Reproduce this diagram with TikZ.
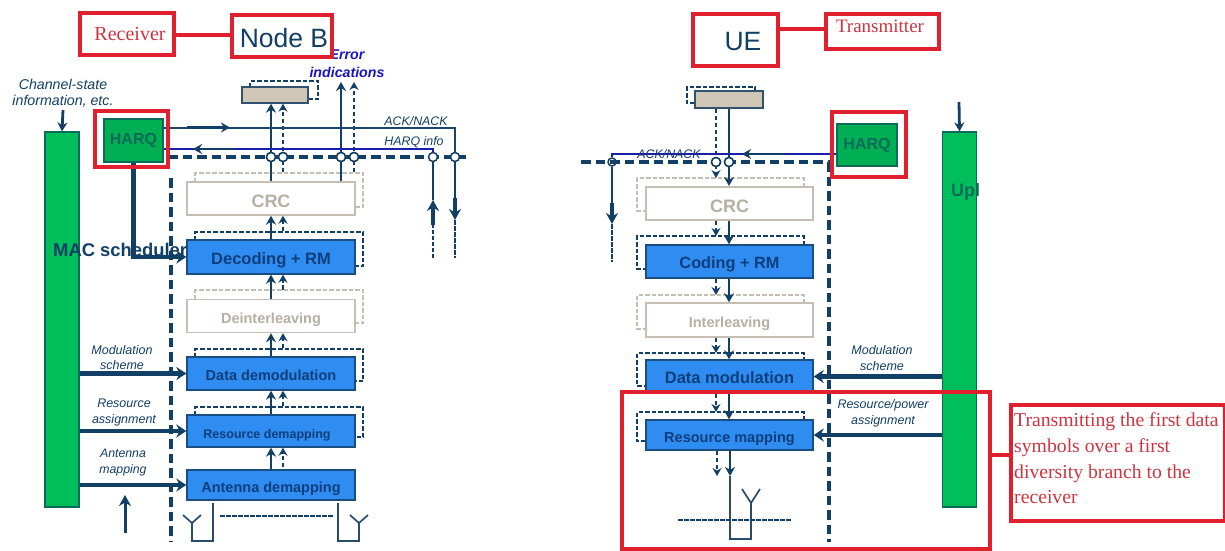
\documentclass[tikz,border=0pt]{standalone}
\usepackage{fontspec}
\setmainfont{Liberation Sans}
\newfontfamily\redserif{Liberation Serif}
\usetikzlibrary{arrows.meta,positioning,calc}
\definecolor{navy}{HTML}{123F66}
\definecolor{barblue}{HTML}{2F8CF0}
\definecolor{barline}{HTML}{1B4E80}
\definecolor{boxtext}{HTML}{0E3F7C}
\definecolor{macgreen}{HTML}{00BE5A}
\definecolor{macline}{HTML}{0C6B58}
\definecolor{tanfill}{HTML}{CFC6B6}
\definecolor{tanline}{HTML}{C6BEB2}
\definecolor{tantext}{HTML}{B7AFA3}
\definecolor{redline}{HTML}{E0202E}
\definecolor{redtext}{HTML}{CC3440}
\definecolor{bluetext}{HTML}{1A14C0}
\tikzset{
  x=1pt,y=-1pt,
  bluebox/.style={draw=barline,line width=1.4pt,fill=barblue,text=boxtext,font=\bfseries\fontsize{15}{15}\selectfont,minimum width=168pt,inner sep=0pt,text height=14pt,text depth=0pt},
  palebox/.style={draw=tanline,line width=1.4pt,fill=white,text=tantext,font=\bfseries\fontsize{15}{15}\selectfont,minimum width=168pt,inner sep=0pt,text height=14pt,text depth=0pt},
  bluesh/.style={draw=navy,line width=2pt,dash pattern=on 4.5pt off 2pt},
  palesh/.style={draw=tanline,line width=2pt,dash pattern=on 4.5pt off 2pt},
  harqbox/.style={draw=macline,line width=1.3pt,fill=macgreen!92!black,text=macline,font=\bfseries\fontsize{16}{16}\selectfont,inner sep=0pt},
  macbar/.style={draw=macline,line width=1.2pt,fill=macgreen,inner sep=0pt,minimum width=34pt,minimum height=375pt},
  redbox/.style={draw=redline,line width=3.4pt,inner sep=0pt},
  redlink/.style={draw=redline,line width=3.4pt},
  redlabel/.style={text=redtext,font=\redserif\fontsize{19}{19}\selectfont,inner sep=0pt},
  biglabel/.style={text=navy,font=\fontsize{26.5}{26.5}\selectfont,inner sep=0pt},
  itlabel/.style={text=navy,font=\itshape\fontsize{14.2}{16}\selectfont,align=center,inner sep=0pt},
  tanbox/.style={draw=navy!70!gray,line width=1.3pt,fill=tanfill,inner sep=0pt},
  junction/.style={circle,draw=navy,line width=1.5pt,fill=white,minimum size=9pt,inner sep=0pt},
  flow/.style={draw=navy,line width=2.8pt,-{Stealth[length=9pt,width=10pt]}},
  dflow/.style={draw=navy,line width=2.8pt,dash pattern=on 4.5pt off 2.5pt,-{Stealth[length=8pt,width=9pt]}},
  ctrl/.style={draw=navy,line width=4.2pt,-{Stealth[length=10pt,width=13pt]}},
  bigdash/.style={draw=navy,line width=3.6pt,dash pattern=on 9.5pt off 5pt},
  antenna/.style={draw=navy!80!gray,line width=1.7pt},
  smalldash/.style={draw=navy,line width=2.6pt,dash pattern=on 4.5pt off 1.5pt},
  harqlink/.style={draw=bluetext!75!navy,line width=1.4pt},
  acklink/.style={draw=navy!90!gray,line width=1.5pt},
}
\begin{document}
\begin{tikzpicture}
\useasboundingbox (0,0) rectangle (1225,550);
% ---- LEFT: Node B
\node[macbar] (mac) at (62,319.5) {};
\draw[bigdash] (171,178) -- (171,542);
\draw[bigdash] (168,157) -- (466,157);

\draw[palesh] (195,182) -- (195,173) -- (363,173) -- (363,207) -- (355,207);
\draw[bluesh] (195,240) -- (195,232) -- (363,232) -- (363,266) -- (355,266);
\draw[palesh] (195,299) -- (195,290) -- (363,290) -- (363,323) -- (355,323);
\draw[bluesh] (195,357) -- (195,349) -- (363,349) -- (363,381) -- (355,381);
\draw[bluesh] (195,415) -- (195,407) -- (363,407) -- (363,437) -- (355,437);
\draw[bluesh] (250,87) -- (250,81) -- (318,81) -- (318,99) -- (308,99);

\node[palebox,minimum height=33pt,text height=17pt] (crcL) at (271,198.5) {\fontsize{18}{18}\selectfont CRC};
\node[bluebox,minimum height=34pt] (decL) at (271,257) {\fontsize{16.5}{16}\selectfont Decoding + RM};
\node[palebox,minimum height=33pt] (deiL) at (271,316) {\fontsize{14.5}{14}\selectfont Deinterleaving};
\node[bluebox,minimum height=33pt] (demL) at (271,373.5) {\fontsize{14.5}{14}\selectfont Data demodulation};
\node[bluebox,minimum height=32pt] (remL) at (271,431) {\fontsize{12.5}{14}\selectfont\hspace*{-8pt}Resource demapping};
\node[bluebox,minimum height=30pt] (antL) at (271,485) {\fontsize{14.5}{14}\selectfont Antenna demapping};
\node[tanbox,minimum width=66pt,minimum height=16pt] (tanL) at (275,95) {};
\node[harqbox,minimum width=59pt,minimum height=43pt] (harqL) at (133.5,140.5) {HARQ};

\node[junction] (j1) at (271,157) {};
\node[junction] (j2) at (283,157) {};
\node[junction] (j3) at (341,157) {};
\node[junction] (j4) at (354,157) {};
\node[junction] (j5) at (433,157) {};
\node[junction] (j6) at (455,157) {};
\coordinate (errS) at (341,82);
\coordinate (errD) at (354,82);

\draw[flow] (crcL.north -| j1) -- (tanL.south -| j1);
\draw[dflow] (crcL.north -| j2) ++(0,-9) -- (tanL.south -| j2);
\draw[flow] (crcL.north -| j3) -- (errS);
\draw[dflow] (crcL.north -| j4) ++(0,-9) -- (errD);
\node[junction] at (j1) {};
\node[junction] at (j2) {};
\node[junction] at (j3) {};
\node[junction] at (j4) {};
\draw[flow] (decL.north -| j1) -- (crcL.south -| j1);
\draw[dflow] (decL.north -| j2) ++(0,-8) -- (crcL.south -| j2);
\draw[flow] (deiL.north -| j1) -- (decL.south -| j1);
\draw[dflow] (deiL.north -| j2) ++(0,-9) -- (decL.south -| j2);
\draw[flow] (demL.north -| j1) -- (deiL.south -| j1);
\draw[dflow] (demL.north -| j2) ++(0,-8) -- (deiL.south -| j2);
\draw[flow] (remL.north -| j1) -- (demL.south -| j1);
\draw[dflow] (remL.north -| j2) ++(0,-8) -- (demL.south -| j2);
\draw[flow] (antL.north -| j1) -- (remL.south -| j1);
\draw[dflow] (antL.north -| j2) ++(0,-2) -- (remL.south -| j2);

\draw[acklink] (harqL.east |- 0,128) -| (j6.north);
\draw[harqlink] (harqL.east |- 0,149) -| (j5.north);
\coordinate (ackA) at (187,127.5);
\coordinate (ackB) at (230,127.5);
\coordinate (hqA) at (235,149);
\coordinate (hqB) at (193,149);
\draw[flow] (ackA) -- (ackB);
\draw[flow] (hqA) -- (hqB);

\coordinate (upA) at (433,225);
\coordinate (upB) at (433,200);
\coordinate (upC) at (433,258);
\coordinate (dnA) at (455,198);
\coordinate (dnB) at (455,220);
\coordinate (dnC) at (455,258);
\draw[draw=navy,line width=1.8pt] (j5.south) -- (upB);
\draw[draw=navy,line width=1.8pt] (j6.south) -- (dnA);
\draw[flow,line width=3.2pt,-{Stealth[length=11pt,width=12pt]}] (upA) -- (upB);
\draw[smalldash] (upC) -- (upA);
\draw[flow,line width=3.2pt,-{Stealth[length=11pt,width=12pt]}] (dnA) -- (dnB);
\draw[smalldash] (dnB) -- (dnC);

\draw[ctrl,line width=4.8pt] (harqL.south) |- (decL.west);
\draw[ctrl] (mac.east |- demL.west) -- (demL.west);
\draw[ctrl] (mac.east |- remL.west) -- (remL.west);
\draw[ctrl] (mac.east |- antL.west) -- (antL.west);
\coordinate (csi) at (63,110);
\draw[flow] (csi) -- (mac.north);
\coordinate (btmA) at (125,533);
\coordinate (btmB) at (125,495);
\draw[flow,line width=3pt,-{Stealth[length=11pt,width=12pt]}] (btmA) -- (btmB);

\draw[antenna] (183,515) -- (192,523) -- (201,515) (192,523) -- (192,541) -- (213,541) -- (213,503);
\draw[antenna] (338,503) -- (338,541) -- (359,541) -- (359,523) -- (350,515) (359,523) -- (368,515);
\coordinate (adA) at (220,516);
\coordinate (adB) at (333,516);
\draw[smalldash] (adA) -- (adB);

\node[itlabel] (csilab) at (63,93) {Channel-state\\information, etc.};
\node[itlabel,font=\itshape\fontsize{12.4}{15}\selectfont] (ack) at (416,121) {ACK/NACK};
\node[itlabel,font=\itshape\fontsize{12.4}{15}\selectfont] (hinfo) at (414,142) {HARQ info};
\node[itlabel,text=bluetext,font=\bfseries\itshape\fontsize{14.2}{18}\selectfont] (errlab) at (347,64) {Error\\indications};
\node[itlabel,font=\itshape\fontsize{12.5}{15.5}\selectfont] (msL) at (122,357.5) {Modulation\\scheme};
\node[itlabel,font=\itshape\fontsize{12.5}{16.5}\selectfont] (raL) at (124,412.5) {Resource\\assignment};
\node[itlabel,font=\itshape\fontsize{12.3}{15.5}\selectfont] (amL) at (123,462.5) {Antenna\\mapping};
\node[anchor=west,text=navy,font=\bfseries\fontsize{18.4}{18}\selectfont,inner sep=0pt] (maclab) at (53,250) {MAC scheduler};

\node[redbox,minimum width=73pt,minimum height=56pt] (rHarqL) at (131.5,139) {};
\node[redbox,minimum width=94pt,minimum height=42pt,redlabel,line width=3.4pt] (rRecv) at (127,34) {\fontsize{20}{20}\selectfont\hspace*{6pt}Receiver};
\node[redbox,minimum width=100pt,minimum height=42pt] (rNodeB) at (282,36) {};
\node[biglabel] (nodeb) at (284,38) {Node B};
\draw[redlink] (rRecv.east |- 0,35) -- (rNodeB.west |- 0,35);

% ---- RIGHT: UE
\node[macbar] (upl) at (959.5,319.5) {};
\draw[bigdash] (829,162) -- (829,542);
\draw[bigdash] (581,162) -- (830,162);

\draw[palesh] (804,187) -- (804,178) -- (637,178) -- (637,211) -- (646,211);
\draw[bluesh] (804,245) -- (804,236) -- (637,236) -- (637,269) -- (646,269);
\draw[palesh] (804,303) -- (804,295) -- (637,295) -- (637,329) -- (646,329);
\draw[bluesh] (804,361) -- (804,353) -- (637,353) -- (637,386) -- (646,386);
\draw[bluesh] (804,420) -- (804,412) -- (637,412) -- (637,441) -- (646,441);
\draw[bluesh] (755,91) -- (755,87) -- (687,87) -- (687,103) -- (695,103);

\node[palebox,minimum width=167pt,minimum height=33pt,text height=17pt] (crcR) at (729.5,203.5) {\fontsize{18}{18}\selectfont CRC};
\node[bluebox,minimum width=167pt,minimum height=33pt] (codR) at (729.5,261.5) {\fontsize{16.3}{16}\selectfont Coding + RM};
\node[palebox,minimum width=167pt,minimum height=34pt] (intR) at (729.5,320) {\fontsize{14.5}{14}\selectfont Interleaving};
\node[bluebox,minimum width=167pt,minimum height=33pt] (modR) at (729.5,376.5) {\fontsize{16.5}{16}\selectfont Data modulation};
\node[bluebox,minimum width=167pt,minimum height=30pt] (mapR) at (729.5,435) {\fontsize{14.5}{14}\selectfont Resource mapping};
\node[tanbox,minimum width=68pt,minimum height=17pt] (tanR) at (729,99.5) {};
\node[harqbox,minimum width=60pt,minimum height=42pt] (harqR) at (867,145) {HARQ};

\node[junction] (k1) at (716,162) {};
\node[junction] (k2) at (729,162) {};
\node[junction,minimum size=8pt,fill=none] (k3) at (612,162) {};

\draw[dflow] (tanR.south -| k1) -- (716,178);
\draw[flow] (tanR.south -| k2) -- (729,186);
\node[junction] at (k1) {};
\node[junction] at (k2) {};
\draw[dflow] (crcR.south -| k1) -- (716,236);
\draw[flow] (crcR.south -| k2) -- (codR.north -| k2);
\draw[dflow] (codR.south -| k1) -- (716,295);
\draw[flow] (codR.south -| k2) -- (intR.north -| k2);
\draw[dflow] (intR.south -| k1) -- (716,353);
\draw[flow] (intR.south -| k2) -- (modR.north -| k2);
\draw[dflow] (modR.south -| k1) -- (716,412);
\draw[flow] (modR.south -| k2) -- (mapR.north -| k2);
\coordinate (mapS1) at (717,476);
\coordinate (mapS2) at (730,476);
\draw[dflow] (mapR.south -| mapS1) -- (mapS1);
\draw[flow] (mapR.south -| mapS2) -- (mapS2);

\draw[harqlink] (harqR.west |- 0,154) -| (k3.north);
\coordinate (qA) at (785,154);
\coordinate (qB) at (742,154);
\draw[flow] (qA) -- (qB);
\coordinate (dA) at (612,203);
\coordinate (dB) at (612,224);
\coordinate (dC) at (612,262);
\draw[draw=navy,line width=1.8pt] (k3.south) -- (dA);
\draw[flow,line width=3.2pt,-{Stealth[length=11pt,width=12pt]}] (dA) -- (dB);
\draw[smalldash] (dB) -- (dC);

\draw[ctrl] (upl.west |- modR.east) -- (modR.east);
\draw[ctrl] (upl.west |- mapR.east) -- (mapR.east);
\coordinate (uplIn) at (959,102);
\draw[flow] (uplIn) -- (upl.north);

\draw[antenna] (730,476) -- (730,539) -- (751,539) -- (751,503) -- (742,489) (751,503) -- (760,489);
\coordinate (rdA) at (678,520);
\coordinate (rdB) at (792,520);
\draw[smalldash] (rdA) -- (rdB);

\node[itlabel,font=\itshape\fontsize{12.4}{15}\selectfont,text=navy!80!bluetext] (ackR) at (669,154) {ACK/NACK};
\node[itlabel,font=\itshape\fontsize{12.5}{16}\selectfont] (msR) at (882,358) {Modulation\\scheme};
\node[itlabel,font=\itshape\fontsize{12.5}{16}\selectfont] (raR) at (883,413) {Resource/power\\assignment};
\node[anchor=west,text=macline,font=\bfseries\fontsize{18}{18}\selectfont,inner sep=0pt] (upllab) at (951,192) {Upl};

\node[redbox,minimum width=74pt,minimum height=65pt] (rHarqR) at (869,144.5) {};
\node[redbox,minimum width=85pt,minimum height=52pt] (rUE) at (735.5,40) {};
\node[biglabel] (ue) at (743,42) {UE};
\node[redbox,minimum width=113pt,minimum height=35pt,redlabel,line width=3.4pt] (rTx) at (882.5,31.5) {};
\node[redlabel] (txl) at (880,26) {Transmitter};
\draw[redlink] (rUE.east |- 0,29) -- (rTx.west |- 0,29);
\node[redbox,minimum width=368pt,minimum height=157pt] (rBig) at (806,470.5) {};
\node[redbox,minimum width=214pt,minimum height=116pt] (rTxt) at (1118,463) {};
\node[redlabel,anchor=west,align=left,font=\redserif\fontsize{19.7}{25.7}\selectfont] (txt) at (1014,458.5) {Transmitting the first data\\symbols over a first\\diversity branch to the\\receiver};
\draw[redlink] (rBig.east |- 0,455) -- (rTxt.west |- 0,455);
\end{tikzpicture}
\end{document}
